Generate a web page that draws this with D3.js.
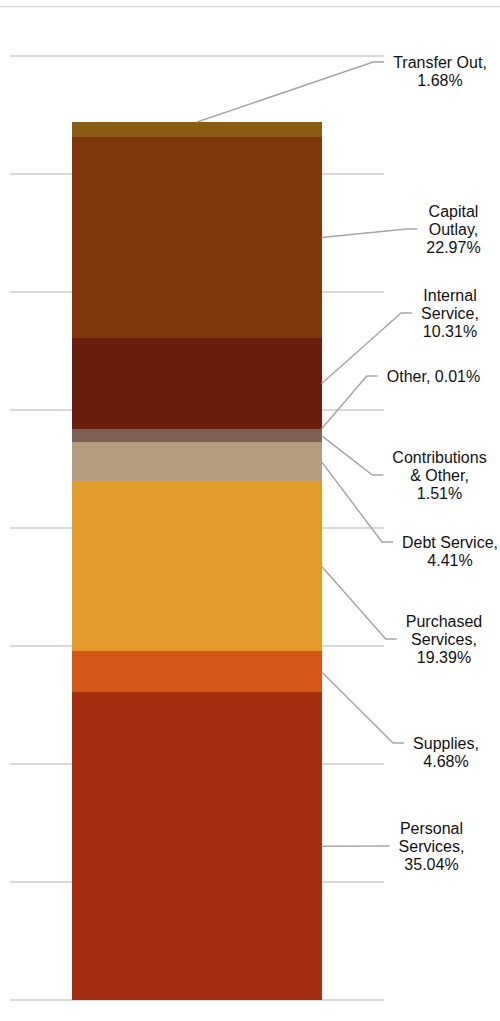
<!DOCTYPE html>
<html>
<head>
<meta charset="utf-8">
<script src="https://cdn.jsdelivr.net/npm/d3@7"></script>
<style>
  html, body { margin: 0; padding: 0; background: #fff; }
  svg { display: block; }
  text { font-family: "Liberation Sans", Arial, sans-serif; font-size: 16px; fill: #111; }
</style>
</head>
<body>
<svg id="chart" width="500" height="1021"></svg>
<script>
// Expenditure categories, stacked bottom to top
const categories = [
  "Personal Services", "Supplies", "Purchased Services", "Debt Service",
  "Contributions & Other", "Other", "Internal Service", "Capital Outlay", "Transfer Out"
];
// Share of total expenditures, percent
const shares = [35.04, 4.68, 19.39, 4.41, 1.51, 0.01, 10.31, 22.97, 1.68];
// Label text lines for each category
const labelLines = [
  ["Personal", "Services,", "35.04%"],
  ["Supplies,", "4.68%"],
  ["Purchased", "Services,", "19.39%"],
  ["Debt Service,", "4.41%"],
  ["Contributions", "& Other,", "1.51%"],
  ["Other, 0.01%"],
  ["Internal", "Service,", "10.31%"],
  ["Capital", "Outlay,", "22.97%"],
  ["Transfer Out,", "1.68%"]
];
const colors = ["#a53011", "#d75718", "#e29a2a", "#b59e80", "#806055", "#7a5040", "#6a1e0b", "#82360e", "#8b5b16"];
// Gridline spacing in percent units
const gridStep = 13.44;
const gridCount = 8;

// Label placement (centre x, y of the line the leader meets)
const labelX = [431.5, 446, 444, 450, 439.5, 433.5, 450, 453.5, 440];
const labelY = [846, 743, 639, 542, 475, 376, 313, 229, 62];
// Which part of a segment the leader starts from
const anchorAt = ["mid", "mid", "mid", "mid", "mid", "top", "mid", "mid", "topCenter"];

const svg = d3.select("#chart");
const lineH = 18;

const y = d3.scaleLinear().domain([0, gridStep * gridCount]).range([1000, 56]);
const x = d3.scaleBand().domain(["Expenditures"]).range([10, 384]).paddingInner(0).paddingOuter(0.251);

// top border
svg.append("line").attr("x1", 0).attr("x2", 500).attr("y1", 6.5).attr("y2", 6.5)
  .attr("stroke", "#dcdcdc").attr("stroke-width", 1.5);

// gridlines
const ticks = d3.range(0, gridCount + 1).map(i => i * gridStep);
svg.append("g").selectAll("line").data(ticks).join("line")
  .attr("x1", 10).attr("x2", 384)
  .attr("y1", d => y(d)).attr("y2", d => y(d))
  .attr("stroke", "#d9d9d9").attr("stroke-width", 2);

// stacked segments
const stack = [];
let acc = 0;
shares.forEach((v, i) => { stack.push({ i, y0: acc, y1: acc + v }); acc += v; });

svg.append("g").attr("shape-rendering", "crispEdges").selectAll("rect").data(stack).join("rect")
  .attr("x", x("Expenditures"))
  .attr("width", x.bandwidth())
  .attr("y", d => y(d.y1))
  .attr("height", d => y(d.y0) - y(d.y1))
  .attr("fill", d => colors[d.i]);

// labels
const labels = svg.append("g").selectAll("text").data(stack).join("text")
  .attr("text-anchor", "middle")
  .each(function (d) {
    const lines = labelLines[d.i];
    const n = lines.length;
    // the leader meets the middle line (or the first line of two)
    const mid = n === 3 ? 1 : 0;
    const t = d3.select(this);
    lines.forEach((s, k) => {
      t.append("tspan")
        .attr("x", labelX[d.i])
        .attr("y", labelY[d.i] + (k - mid) * lineH)
        .attr("dy", "0.35em")
        .text(s);
    });
  });

// leader lines
const leaders = svg.append("g");
labels.each(function (d) {
  const bbox = this.getBBox();
  const xEnd = bbox.x - 9;
  const xElbow = xEnd - 11;
  const right = x("Expenditures") + x.bandwidth();
  let ax, ay;
  if (anchorAt[d.i] === "topCenter") {
    ax = x("Expenditures") + x.bandwidth() / 2;
    ay = y(d.y1);
  } else if (anchorAt[d.i] === "top") {
    ax = right; ay = y(d.y1);
  } else {
    ax = right; ay = (y(d.y0) + y(d.y1)) / 2;
  }
  const ly = labelY[d.i];
  const pts = Math.abs(ay - ly) < 1 ? [[ax, ay], [xEnd, ly]] : [[ax, ay], [xElbow, ly], [xEnd, ly]];
  leaders.append("path")
    .attr("d", d3.line()(pts))
    .attr("fill", "none")
    .attr("stroke", "#a6a6a6")
    .attr("stroke-width", 1.5);
});
</script>
</body>
</html>
